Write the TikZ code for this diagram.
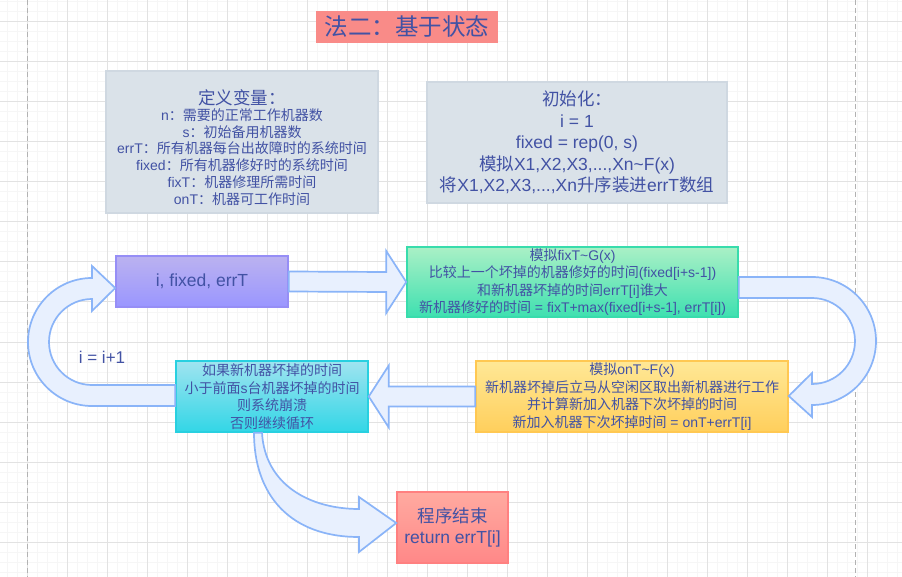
\documentclass[tikz,border=0pt]{standalone}
\usepackage{fontspec}
\setmainfont{Liberation Sans}
\newfontfamily\cjkfont{Noto Sans CJK SC}
\usetikzlibrary{calc}

% switch to the CJK family automatically around Chinese characters
\XeTeXinterchartokenstate=1
\newXeTeXintercharclass\CJKclass
\newcount\cjkc
\def\setcjkrange#1#2{\cjkc=#1\relax
  \loop\XeTeXcharclass\cjkc=\CJKclass\advance\cjkc by 1\relax
  \ifnum\cjkc<#2\relax\repeat}
\setcjkrange{"3000}{"3040}
\setcjkrange{"4E00}{"A000}
\setcjkrange{"FF00}{"FFF0}
\XeTeXinterchartoks 0 \CJKclass={\cjkfont}
\XeTeXinterchartoks 4095 \CJKclass={\cjkfont}
\XeTeXinterchartoks \CJKclass 0={\rmfamily}
\XeTeXinterchartoks \CJKclass 4095={\rmfamily}

\definecolor{txt}{RGB}{66,82,164}
\definecolor{gridminor}{RGB}{246,246,246}
\definecolor{gridmajor}{RGB}{226,226,226}
\definecolor{pageline}{RGB}{178,178,178}
\definecolor{titlebg}{RGB}{249,139,136}
\definecolor{defbg}{RGB}{218,226,233}
\definecolor{defbd}{RGB}{207,216,225}
\definecolor{arrowbg}{RGB}{232,240,254}
\definecolor{arrowbd}{RGB}{138,180,248}
\definecolor{purtop}{RGB}{187,178,240}
\definecolor{purbot}{RGB}{154,150,255}
\definecolor{purbd}{RGB}{150,142,246}
\definecolor{grntop}{RGB}{170,240,198}
\definecolor{grnbot}{RGB}{62,224,176}
\definecolor{grnbd}{RGB}{56,220,172}
\definecolor{yeltop}{RGB}{255,232,150}
\definecolor{yelbot}{RGB}{255,207,92}
\definecolor{yelbd}{RGB}{255,200,82}
\definecolor{cyntop}{RGB}{160,228,240}
\definecolor{cynbot}{RGB}{50,214,230}
\definecolor{cynbd}{RGB}{40,208,224}
\definecolor{redtop}{RGB}{255,170,160}
\definecolor{redbot}{RGB}{255,136,136}
\definecolor{redbd}{RGB}{255,128,128}

\tikzset{
  box/.style={line width=1.5pt, text=txt, align=center, inner sep=0pt},
  bigarrow/.style={draw=arrowbd, fill=arrowbg, line width=1.7pt, line join=miter},
  small/.style={font=\fontsize{14}{17.5}\selectfont},
  medium/.style={font=\fontsize{17.5}{21.5}\selectfont},
}

\begin{document}
\begin{tikzpicture}[x=1pt,y=-1pt]
  % canvas and grid
  \fill[white] (0,0) rectangle (902,577);
  \useasboundingbox (0,0) rectangle (902,577);
  \foreach \gx in {7,17,...,897} \draw[gridminor, line width=1pt] (\gx,0) -- (\gx,577);
  \foreach \gy in {2,12,...,572} \draw[gridminor, line width=1pt] (0,\gy) -- (902,\gy);
  \foreach \gx in {27,67,...,867} \draw[gridmajor, line width=1pt] (\gx,0) -- (\gx,577);
  \foreach \gy in {22,62,...,542} \draw[gridmajor, line width=1pt] (0,\gy) -- (902,\gy);
  \draw[pageline, line width=1pt, dash pattern=on 5pt off 3pt] (27,0) -- (27,577);
  \draw[pageline, line width=1pt, dash pattern=on 5pt off 3pt] (855,0) -- (855,577);

  % title
  \node[box, fill=titlebg, minimum width=182pt, minimum height=32pt,
        font=\fontsize{23.5}{28}\selectfont] (title) at (407,27) {法二：基于状态};

  % variables and initialisation
  \node[box, draw=defbd, fill=defbg, minimum width=272pt, minimum height=142pt] (defs) at (242,142) {};
  \node[text=txt, align=center, inner sep=0pt, small] (defstext) at (242,147.5)
    {{\fontsize{17.5}{21}\selectfont 定义变量：}\\[-1.5pt]
     n：需要的正常工作机器数\\[-0.7pt]
     s：初始备用机器数\\[-0.7pt]
     errT：所有机器每台出故障时的系统时间\\[-0.7pt]
     fixed：所有机器修好时的系统时间\\[-0.7pt]
     fixT：机器修理所需时间\\[-0.7pt]
     onT：机器可工作时间};

  \node[box, draw=defbd, fill=defbg, minimum width=300pt, minimum height=121pt, medium] (init) at (577,142.5)
    {初始化：\\
     i = 1\\
     fixed = rep(0, s)\\
     模拟X1,X2,X3,...,Xn\textasciitilde F(x)\\
     将X1,X2,X3,...,Xn升序装进errT数组};

  % loop steps
  \node[box, draw=purbd, top color=purtop, bottom color=purbot, minimum width=172pt, minimum height=51pt, medium] (state) at (202,281.5)
    {i, fixed, errT};

  \node[box, draw=grnbd, top color=grntop, bottom color=grnbot, minimum width=331pt, minimum height=70pt, small] (repair) at (572.5,282)
    {模拟fixT\textasciitilde G(x)\\
     比较上一个坏掉的机器修好的时间(fixed[i+s-1])\\
     和新机器坏掉的时间errT[i]谁大\\
     新机器修好的时间 = fixT+max(fixed[i+s-1], errT[i])};

  \node[box, draw=yelbd, top color=yeltop, bottom color=yelbot, minimum width=312pt, minimum height=71pt, small] (replace) at (632,396.5)
    {模拟onT\textasciitilde F(x)\\
     新机器坏掉后立马从空闲区取出新机器进行工作\\
     并计算新加入机器下次坏掉的时间\\
     新加入机器下次坏掉时间 = onT+errT[i]};

  \node[box, draw=cynbd, top color=cyntop, bottom color=cynbot, minimum width=192pt, minimum height=71pt, small] (check) at (272,396.5)
    {如果新机器坏掉的时间\\
     小于前面s台机器坏掉的时间\\
     则系统崩溃\\
     否则继续循环};

  \node[box, draw=redbd, top color=redtop, bottom color=redbot, minimum width=111pt, minimum height=71pt,
        font=\fontsize{17.5}{21}\selectfont] (finish) at (452.5,527.5)
    {程序结束\\return errT[i]};

  \node[text=txt, inner sep=0pt, font=\fontsize{17}{20}\selectfont] (incr) at (102,357) {i = i+1};

  % block arrows
  \draw[bigarrow]
    ([yshift=10pt]state.east) -- ([xshift=-20pt,yshift=10pt]repair.west)
    -- ([xshift=-20pt,yshift=31pt]repair.west) -- (repair.west)
    -- ([xshift=-20pt,yshift=-31pt]repair.west) -- ([xshift=-20pt,yshift=-10pt]repair.west)
    -- ([yshift=-10pt]state.east) -- cycle;

  \coordinate (rturn) at (812,341);
  \draw[bigarrow]
    ([yshift=5pt]repair.east) -- (812,277) arc[start angle=90, end angle=-90, radius=64pt]
    -- (812,417) -- ([yshift=0.5pt]replace.east) -- (812,373)
    -- (812,384) arc[start angle=-90, end angle=90, radius=43pt]
    -- ([yshift=-16pt]repair.east) -- cycle;

  \draw[bigarrow]
    ([yshift=10pt]replace.west) -- ([xshift=20pt,yshift=10pt]check.east)
    -- ([xshift=20pt,yshift=31pt]check.east) -- (check.east)
    -- ([xshift=20pt,yshift=-31pt]check.east) -- ([xshift=20pt,yshift=-10pt]check.east)
    -- ([yshift=-10pt]replace.west) -- cycle;

  \coordinate (lturn) at (92,342);
  \draw[bigarrow]
    ([yshift=-9.5pt]check.west) -- (92,406) arc[start angle=-90, end angle=-270, radius=64pt]
    -- (92,266) -- ([yshift=-6.5pt]state.west) -- (92,311)
    -- (92,299) arc[start angle=90, end angle=270, radius=43pt]
    -- ([yshift=11.5pt]check.west) -- cycle;

  \draw[bigarrow]
    ([xshift=-18pt]check.south) .. controls (254,495) and (290,537) .. (359,537)
    -- (359,552) -- ([yshift=4.5pt]finish.west) -- (359,497) -- (359,509)
    .. controls (310,509) and (265,485) .. ([xshift=-10pt]check.south) -- cycle;
\end{tikzpicture}
\end{document}
